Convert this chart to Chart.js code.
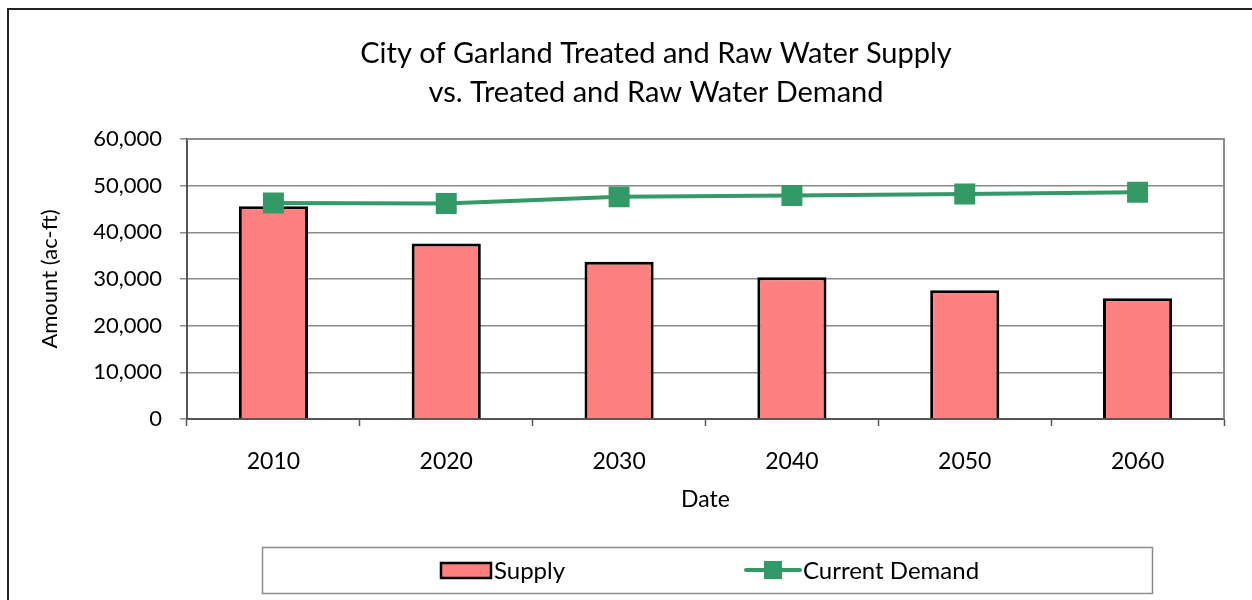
<!DOCTYPE html>
<html>
<head>
<meta charset="utf-8">
<script src="https://cdn.jsdelivr.net/npm/chart.js@4/dist/chart.umd.min.js"></script>
<style>
  html, body { margin: 0; padding: 0; background: #fff; }
  #wrap { width: 1252px; height: 600px; position: relative; overflow: hidden; }
</style>
</head>
<body>
<div id="wrap"><canvas id="myChart" width="1252" height="600"></canvas></div>
<script>
// chart data
const years = ['2010', '2020', '2030', '2040', '2050', '2060']
const supply = [45600, 37600, 33700, 30400, 27600, 25900]
const currentDemand = [46300, 46200, 47600, 47900, 48200, 48600]
const yTicks = [0, 10000, 20000, 30000, 40000, 50000, 60000]
const titleLines = ['City of Garland Treated and Raw Water Supply', 'vs. Treated and Raw Water Demand']

const FONT = 'Lato, "Open Sans", sans-serif'
const GREEN = '#339966'
const PINK = '#FF8080'

// outer frame + plot border
const framePlugin = {
  id: 'frame',
  beforeDraw(chart) {
    const ctx = chart.ctx
    ctx.save()
    ctx.strokeStyle = '#222'
    ctx.lineWidth = 2
    ctx.beginPath()
    ctx.moveTo(1260, 9)
    ctx.lineTo(8, 9)
    ctx.lineTo(8, 610)
    ctx.stroke()
    ctx.restore()
  },
  afterDatasetsDraw(chart) {
    const a = chart.chartArea
    const ctx = chart.ctx
    ctx.save()
    ctx.strokeStyle = '#8c8c8c'
    ctx.lineWidth = 2
    ctx.beginPath()
    ctx.moveTo(a.left, a.top)
    ctx.lineTo(a.right, a.top)
    ctx.lineTo(a.right, a.bottom)
    ctx.stroke()
    ctx.restore()
  }
}

// legend in its own box, like the original
const legendBox = {
  id: 'legendBox',
  afterDraw(chart) {
    const ds = chart.data.datasets
    const bars = ds.find(d => d.type === 'bar')
    const line = ds.find(d => d.type === 'line')
    const ctx = chart.ctx
    ctx.save()
    ctx.strokeStyle = '#8c8c8c'
    ctx.lineWidth = 1.5
    ctx.strokeRect(262.5, 547.5, 890, 46)
    const cy = 570
    // supply swatch
    ctx.fillStyle = bars.backgroundColor
    ctx.strokeStyle = bars.borderColor
    ctx.lineWidth = 2.5
    ctx.fillRect(441, 563, 50, 15)
    ctx.strokeRect(441, 563, 50, 15)
    ctx.fillStyle = '#000'
    ctx.font = '24px ' + FONT
    ctx.textBaseline = 'middle'
    ctx.textAlign = 'left'
    ctx.fillText(bars.label, 494, cy + 1)
    // demand line swatch
    ctx.strokeStyle = line.borderColor
    ctx.lineWidth = 4
    ctx.lineCap = 'round'
    ctx.beginPath()
    ctx.moveTo(746, cy)
    ctx.lineTo(800, cy)
    ctx.stroke()
    ctx.fillStyle = line.backgroundColor
    ctx.fillRect(764, cy - 9, 18, 18)
    ctx.fillStyle = '#000'
    ctx.fillText(line.label, 803, cy + 1)
    ctx.restore()
  }
}

const ctx = document.getElementById('myChart').getContext('2d')
const myChart = new Chart(ctx, {
  data: {
    labels: years,
    datasets: [{
      type: 'bar',
      label: 'Supply',
      data: supply,
      backgroundColor: PINK,
      borderColor: '#000',
      borderWidth: 3,
      barPercentage: 0.4,
      categoryPercentage: 1,
      order: 1
    }, {
      type: 'line',
      label: 'Current Demand',
      data: currentDemand,
      borderColor: GREEN,
      backgroundColor: GREEN,
      borderWidth: 4,
      pointStyle: 'rect',
      pointRadius: 12,
      pointHoverRadius: 12,
      tension: 0,
      order: 0
    }]
  },
  options: {
    responsive: false,
    animation: false,
    // the original chart is wider than the picture, so the title sits right of centre
    layout: { padding: { left: 10, right: -50, top: 10, bottom: 71 } },
    plugins: {
      legend: { display: false },
      tooltip: { enabled: false },
      title: {
        display: true,
        text: titleLines,
        color: '#000',
        font: { family: FONT, size: 29, weight: 'normal', lineHeight: 1.345 },
        padding: { top: 24, bottom: 27 }
      }
    },
    scales: {
      x: {
        offset: true,
        afterFit(scale) { scale.height = 110 },
        grid: {
          offset: true,
          drawOnChartArea: false,
          color: '#555',
          tickLength: 7,
          tickWidth: 1.5
        },
        border: { color: '#555', width: 2 },
        ticks: { color: '#000', padding: 22, font: { family: FONT, size: 23 } },
        title: {
          display: true,
          text: 'Date',
          color: '#000',
          font: { family: FONT, size: 23 },
          padding: { top: 0, bottom: 16 }
        }
      },
      y: {
        min: 0,
        max: 60000,
        afterFit(scale) { scale.width = 177 },
        afterBuildTicks(scale) { scale.ticks = yTicks.map(v => ({ value: v })) },
        grid: { color: '#8a8a8a', lineWidth: 1.5, tickLength: 7 },
        border: { color: '#555', width: 2 },
        ticks: {
          color: '#000',
          padding: 18,
          font: { family: FONT, size: 22 },
          callback: v => v.toLocaleString('en-US')
        },
        title: {
          display: true,
          text: 'Amount (ac-ft)',
          color: '#000',
          font: { family: FONT, size: 22 },
          padding: { top: 27, bottom: 0 }
        }
      },
      // empty spacer on the right to keep the plot inside the picture
      spacer: {
        type: 'linear',
        position: 'right',
        afterFit(scale) { scale.width = 78 },
        grid: { display: false },
        border: { display: false },
        ticks: { display: false }
      }
    }
  },
  plugins: [framePlugin, legendBox]
})
</script>
</body>
</html>
